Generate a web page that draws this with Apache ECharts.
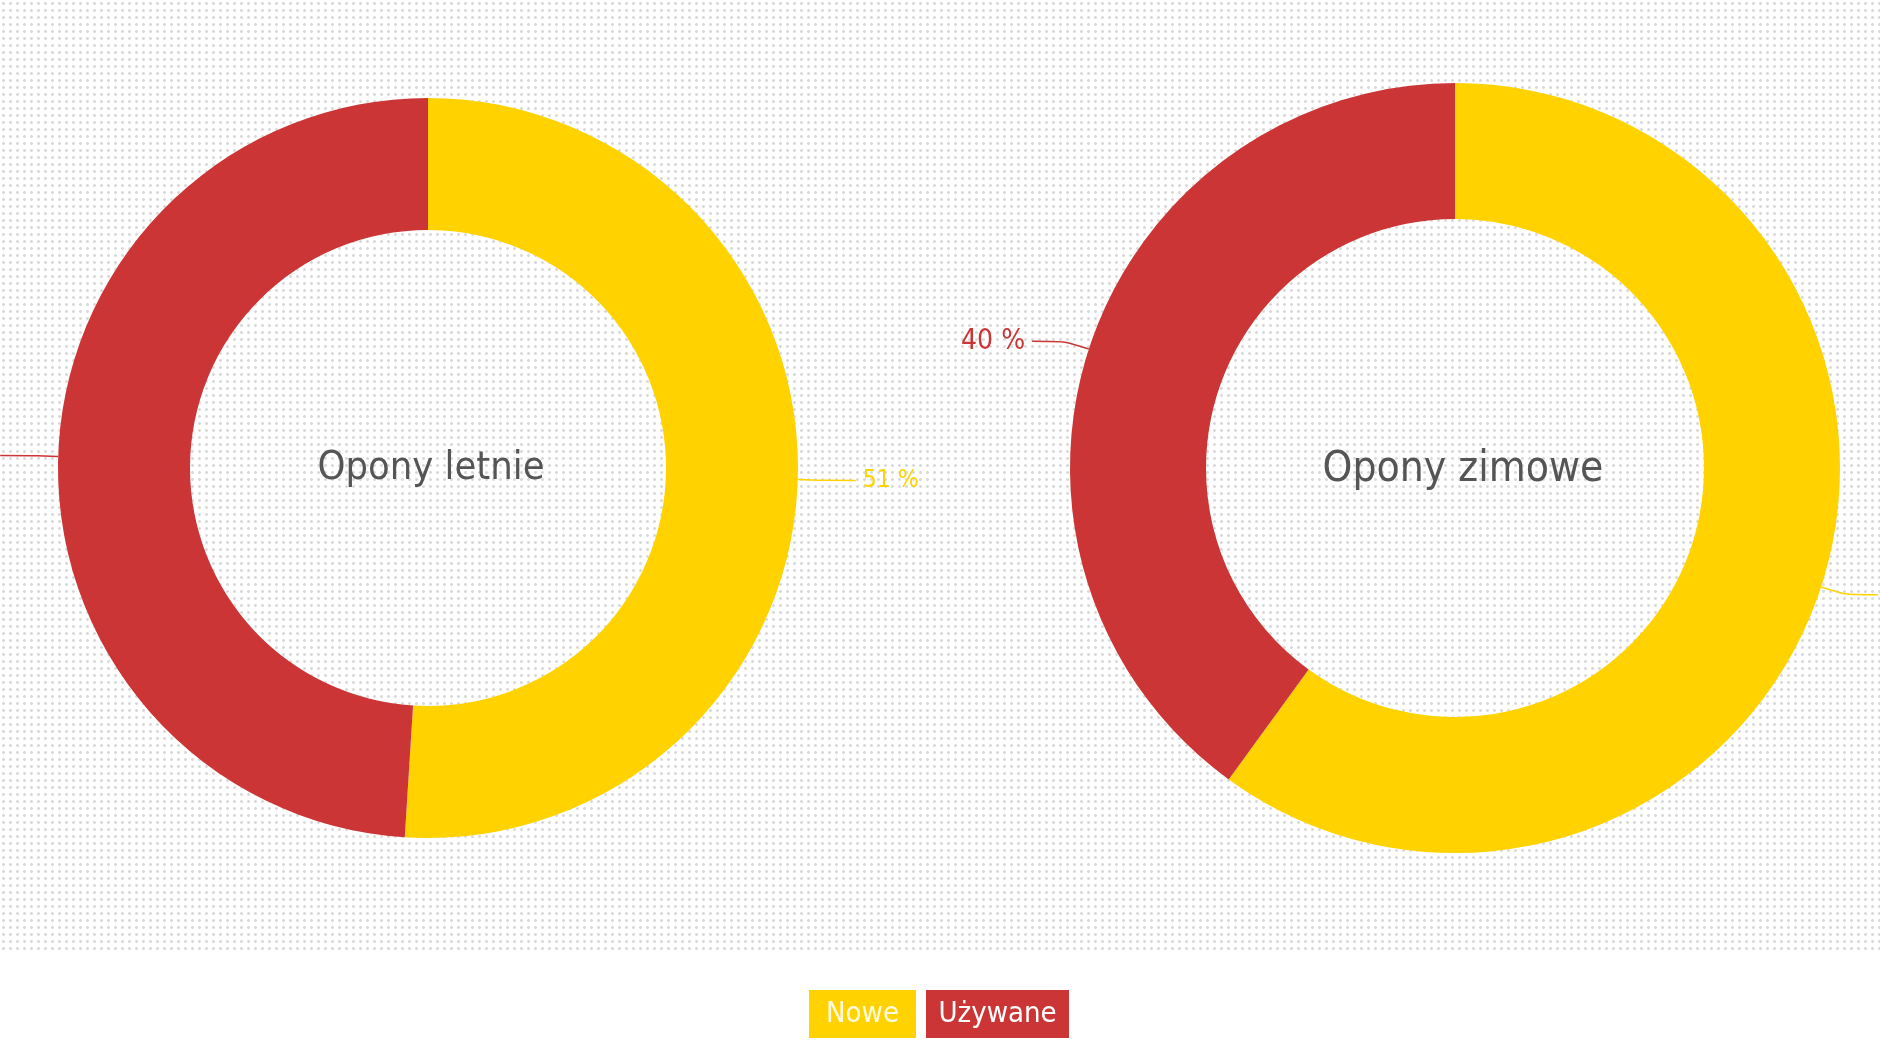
<!DOCTYPE html>
<html>
<head>
<meta charset="utf-8">
<script src="https://cdn.jsdelivr.net/npm/echarts@6/dist/echarts.min.js"></script>
<style>
  html, body { margin: 0; padding: 0; background: #ffffff; }
  #bg {
    position: absolute; left: 0; top: 0; width: 1880px; height: 952px;
    background-image: radial-gradient(circle at center, #d9d9d9 0, #d9d9d9 1.1px, rgba(255,255,255,0) 1.7px);
    background-size: 7px 7px;
  }
  #chart { position: absolute; left: 0; top: 0; width: 1880px; height: 1060px; }
</style>
</head>
<body>
<div id="bg"></div>
<div id="chart"></div>
<script>
// ---- data ----
const categories = ['Nowe', 'Używane'];
const summerValues = [51, 49];
const winterValues = [60, 40];
const chartTitles = ['Opony letnie', 'Opony zimowe'];
const colors = ['#ffd200', '#cc3535'];

// ---- font selection: prefer a narrow sans if installed ----
const ctx = document.createElement('canvas').getContext('2d');
function installed(fam) {
  ctx.font = '100px monospace';
  const a = ctx.measureText('Opony letnie 51 %').width;
  ctx.font = '100px "' + fam + '", monospace';
  const b = ctx.measureText('Opony letnie 51 %').width;
  return Math.abs(a - b) > 0.5;
}
const narrowCandidates = ['Liberation Sans Narrow', 'DejaVu Sans Condensed', 'Roboto Condensed', 'Open Sans Condensed', 'Noto Sans Display Condensed'];
let fam = 'Liberation Sans';
for (const f of narrowCandidates) { if (installed(f)) { fam = f; break; } }
const FONT = '"' + fam + '", "Liberation Sans", Arial, sans-serif';
function widthAt(text, size) { ctx.font = size + 'px ' + FONT; return ctx.measureText(text).width; }
function sizeFor(text, target) { return Math.round(100 * target / widthAt(text, 100) * 10) / 10; }

// sizes fitted to the reference text widths
const titleSizeL = sizeFor(chartTitles[0], 227);
const titleSizeR = sizeFor(chartTitles[1], 281);
const labelSizeL = sizeFor('51 %', 56);
const labelSizeR = sizeFor('40 %', 64);
const legendSize = sizeFor(categories[1], 118);
const boxW = [107, 143];
const legendPad = categories.map((c, i) => Math.max(2, (boxW[i] - widthAt(c, legendSize)) / 2));

function pieSeries(values, center, radius, labelSize) {
  return {
    type: 'pie',
    center: center,
    radius: radius,
    startAngle: 90,
    clockwise: true,
    avoidLabelOverlap: false,
    emphasis: { disabled: true },
    data: categories.map((c, i) => ({
      name: c, value: values[i],
      itemStyle: { color: colors[i] },
      label: { color: colors[i] }
    })),
    label: {
      show: true,
      position: 'outside',
      width: 100,
      formatter: p => p.value + ' %',
      fontFamily: FONT,
      fontSize: labelSize,
      distanceToLabelLine: 7
    },
    labelLine: {
      show: true,
      length: 25,
      length2: 33,
      smooth: 0.25,
      lineStyle: { width: 1.5 }
    }
  };
}

const chart = echarts.init(document.getElementById('chart'), null, { renderer: 'canvas' });
chart.setOption({
  backgroundColor: 'transparent',
  animation: false,
  legend: {
    top: 985,
    left: 799,
    itemWidth: 0,
    itemHeight: 0,
    itemGap: 5,
    selectedMode: false,
    textStyle: { fontFamily: FONT, fontSize: legendSize, lineHeight: 30 },
    data: [
      { name: categories[0], icon: 'rect', textStyle: { backgroundColor: colors[0], color: '#fffbe2', padding: [11, legendPad[0], 7, legendPad[0]] } },
      { name: categories[1], icon: 'rect', textStyle: { backgroundColor: colors[1], color: '#ffffff', padding: [11, legendPad[1], 7, legendPad[1]] } }
    ]
  },
  graphic: [
    { type: 'text', x: 431, y: 469, z: 10, style: { text: chartTitles[0], fill: '#555555', font: titleSizeL + 'px ' + FONT, align: 'center', verticalAlign: 'middle' } },
    { type: 'text', x: 1463, y: 470, z: 10, style: { text: chartTitles[1], fill: '#555555', font: titleSizeR + 'px ' + FONT, align: 'center', verticalAlign: 'middle' } }
  ],
  series: [
    pieSeries(summerValues, [428, 468], [238, 370], labelSizeL),
    pieSeries(winterValues, [1455, 468], [249, 385], labelSizeR)
  ]
});
</script>
</body>
</html>
